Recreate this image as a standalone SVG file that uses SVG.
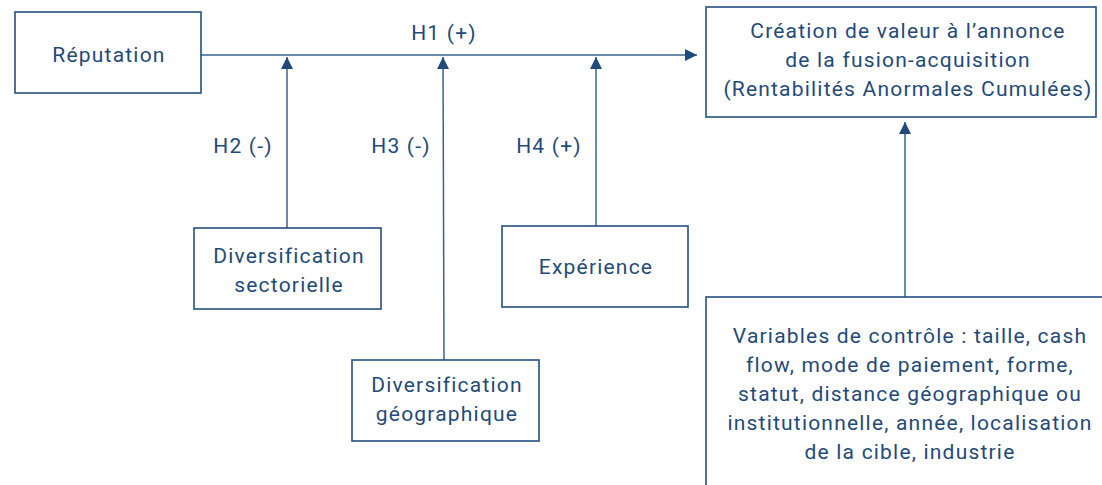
<svg xmlns="http://www.w3.org/2000/svg" width="1102" height="485" viewBox="0 0 1102 485">
<style>
.box{fill:#fff;stroke:#24507f;stroke-width:1.6}
.t{font-family:Roboto,"Liberation Sans",sans-serif;font-size:21px;letter-spacing:1.2px;fill:#1f4a7a;text-anchor:middle}
.c{stroke:#3a6390;stroke-width:1.5;fill:none}
</style>
<defs>
<marker id="ah" viewBox="0 0 12 12" refX="12" refY="6" markerWidth="12" markerHeight="12" markerUnits="userSpaceOnUse" orient="auto">
<path d="M0,0 L12,6 L0,12 Z" fill="#1f4a7a"/>
</marker>
</defs>
<rect width="1102" height="485" fill="#fff"/>
<g id="connectors">
<line class="c" x1="201" y1="55" x2="697" y2="55" marker-end="url(#ah)"/>
<line class="c" x1="287" y1="228" x2="287" y2="57" marker-end="url(#ah)"/>
<line class="c" x1="444" y1="360" x2="443" y2="57" marker-end="url(#ah)"/>
<line class="c" x1="596" y1="226" x2="596" y2="57" marker-end="url(#ah)"/>
<line class="c" x1="905" y1="297" x2="905" y2="122" marker-end="url(#ah)"/>
<text class="t" x="444" y="40">H1 (+)</text>
<text class="t" x="243" y="153">H2 (-)</text>
<text class="t" x="401" y="153">H3 (-)</text>
<text class="t" x="549" y="153">H4 (+)</text>
</g>
<g id="reputation">
<rect class="box" x="15" y="12" width="186" height="81"/>
<text class="t" x="109" y="62">Réputation</text>
</g>
<g id="creation">
<rect class="box" x="706" y="7" width="390" height="110"/>
<text class="t" x="908" y="38">Création de valeur à l’annonce</text>
<text class="t" x="908" y="67">de la fusion-acquisition</text>
<text class="t" x="908" y="96">(Rentabilités Anormales Cumulées)</text>
</g>
<g id="div-sect">
<rect class="box" x="194" y="228" width="187" height="81"/>
<text class="t" x="289" y="263">Diversification</text>
<text class="t" x="289" y="292">sectorielle</text>
</g>
<g id="experience">
<rect class="box" x="502" y="226" width="186" height="81"/>
<text class="t" x="596" y="274">Expérience</text>
</g>
<g id="div-geo">
<rect class="box" x="352" y="360" width="187" height="81"/>
<text class="t" x="447" y="392">Diversification</text>
<text class="t" x="447" y="421">géographique</text>
</g>
<g id="controle">
<rect class="box" x="706" y="297" width="410" height="200"/>
<text class="t" x="910" y="343">Variables de contrôle : taille, cash</text>
<text class="t" x="910" y="372">flow, mode de paiement, forme,</text>
<text class="t" x="910" y="401">statut, distance géographique ou</text>
<text class="t" x="910" y="430">institutionnelle, année, localisation</text>
<text class="t" x="910" y="459">de la cible, industrie</text>
</g>
</svg>
